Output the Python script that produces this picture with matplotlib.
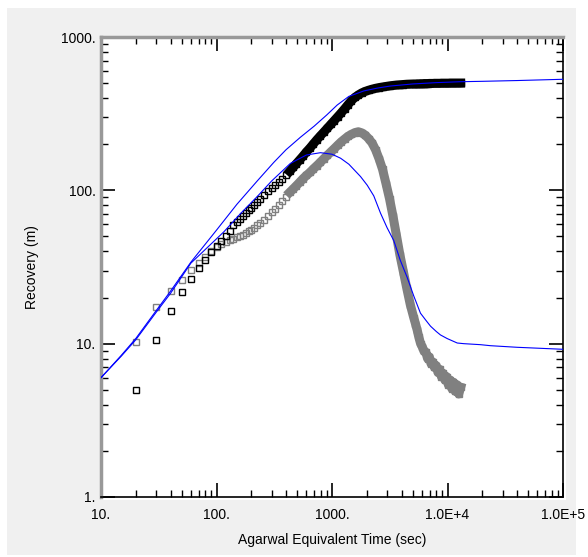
import numpy as np
import matplotlib
matplotlib.use('Agg')
import matplotlib.pyplot as plt
from matplotlib.patches import Rectangle

plt.rcParams['font.family'] = ['Liberation Sans', 'DejaVu Sans']

# recovery test data (time in sec, recovery in m)
time_s = [20, 30, 40, 50, 60, 70, 80, 90, 100, 110, 120, 130, 140, 150, 160, 170, 180, 190, 200,
          210, 225, 240, 260, 280, 300, 320, 345, 370, 400, 430, 460, 490, 525, 560, 600, 645, 690,
          740, 790, 850, 910, 975, 1045, 1120, 1200, 1285,
          1375, 1475, 1580, 1690, 1810, 1940, 2080, 2230, 2390, 2560, 2740, 2940, 3150, 3370, 3610,
          3870, 4150, 4440, 4760,
          5100, 5280, 5460, 5650, 5850, 6060, 6270, 6490, 6720, 6960, 7200, 7450, 7710, 7980, 8260,
          8550, 8850, 9160, 9480, 9810, 10160, 10520, 10880, 11260, 11660, 12070, 12500, 13000]

recovery = [5.0, 10.6, 16.3, 21.7, 26.4, 31.0, 35.0, 39.5, 43.5, 47.0, 50.5, 54.0, 59.0, 62.0, 65.0, 68.0, 71.0, 74.0, 77.0,
            80, 84, 88, 93, 99, 104, 108, 113, 118, 125, 133, 141, 149, 158, 167, 178, 189, 201,
            214, 226, 240, 254, 269, 285, 302, 320, 340,
            362, 385, 404, 419, 432, 442, 450, 457, 463, 468, 472, 476, 480, 483, 486,
            488, 490, 492, 493,
            494, 494, 495, 495, 496, 496, 497, 497, 497, 498, 498, 498, 499, 499, 499,
            499, 500, 500, 500, 500, 500, 501, 501, 501, 501, 501, 501, 501]

derivative = [10.2, 17.3, 22.1, 26.0, 30.2, 33.7, 37.0, 40.5, 43.0, 44.5, 46.0, 47.3, 48.5, 49.5, 50.3, 51.2, 52.5, 54.0, 55.5,
              57, 59, 61.5, 64, 68, 72, 75.5, 80, 85, 91, 97, 102, 107, 113, 119, 125, 131, 138,
              145, 152, 161, 169, 178, 187, 197, 207, 216,
              225, 232, 238, 241, 237, 229, 217, 203, 183, 160, 137, 110, 88, 68, 51,
              38, 29.5, 23, 18,
              14.8, 13.5, 12.3, 11.0, 10.0, 9.5, 8.9, 8.8, 8.0, 8.2, 7.4, 7.6, 7.0, 7.2, 6.5,
              6.8, 6.1, 6.4, 5.8, 6.1, 5.4, 5.8, 5.1, 5.6, 4.9, 5.4, 4.7, 5.2]

# type curves
t_curve1 = [10, 15, 20, 30, 40, 60, 100, 150, 225, 313, 400, 533, 700, 900, 1109, 1400, 1888,
            2500, 3206, 5000, 8000, 13000, 20000, 40000, 100000]
v_curve1 = [6.0, 8.4, 10.8, 16.4, 22.0, 34.0, 55.0, 81.0, 115, 152, 184, 222, 262, 310, 360, 410, 445,
            465, 479, 494, 504, 511, 514, 520, 530]

t_curve2 = [10, 15, 20, 30, 40, 60, 116, 160, 225, 300, 437, 600, 795, 1000, 1186, 1400, 1766, 2018,
            2300, 2630, 3000, 3427, 3900, 4480, 5100, 5835, 6500, 7130, 8000, 8690, 9930, 12140,
            13840, 19300, 23560, 40100, 100000]
v_curve2 = [6.0, 8.3, 10.6, 16.0, 21.3, 33.5, 53.7, 70, 91, 115, 150, 170, 176, 172, 162, 148, 123, 108,
            92, 71, 57, 47, 35, 27, 20.5, 15.8, 14.2, 13.0, 12.0, 11.4, 10.8, 10.1,
            10.0, 9.85, 9.7, 9.47, 9.19]

W, H = 588, 557
fig = plt.figure(figsize=(W / 100, H / 100), dpi=100, facecolor='white')
# grey panel behind the plot
fig.patches.append(Rectangle((7 / W, 2 / H), (576 - 7) / W, (549 - 2) / H,
                             transform=fig.transFigure, facecolor='#f0f0f0',
                             edgecolor='none', zorder=-2))
# white highlight right / bottom of frame
fig.patches.append(Rectangle((101 / W, 1 - 500 / H), (566 - 101) / W, (500 - 37) / H,
                             transform=fig.transFigure, facecolor='white',
                             edgecolor='none', zorder=-1))

ax = fig.add_axes([101 / W, 1 - 497 / H, (563 - 101) / W, (497 - 37) / H])
ax.set_xscale('log')
ax.set_yscale('log')

# late-time samples are so dense the squares merge into a solid band
k = time_s.index(430)
ax.plot(time_s[k:], derivative[k:], '-', color='#808080', lw=6.5,
        solid_capstyle='projecting', solid_joinstyle='round', zorder=2)
ax.plot(time_s[k:], recovery[k:], '-', color='black', lw=6.5,
        solid_capstyle='projecting', solid_joinstyle='round', zorder=3)
ax.plot(time_s, derivative, 's', mfc='none', mec='#808080', ms=5, mew=1.0, zorder=2)
ax.plot(time_s, recovery, 's', mfc='none', mec='black', ms=5, mew=1.0, zorder=3)
ax.plot(t_curve1, v_curve1, '-', color='#0000ff', lw=0.8, zorder=4)
ax.plot(t_curve2, v_curve2, '-', color='#0000ff', lw=0.8, zorder=4)

ax.set_xlim(10, 1e5)
ax.set_ylim(1, 1000)
ax.set_xticks([10, 100, 1000, 1e4, 1e5])
ax.set_xticklabels(['10.', '100.', '1000.', '1.0E+4', '1.0E+5'])
ax.set_yticks([1, 10, 100, 1000])
ax.set_yticklabels(['1.', '10.', '100.', '1000.'])
ax.tick_params(which='both', direction='in', top=True, right=True, labelsize=10, colors='black')
ax.tick_params(which='major', length=10, width=1.2)
ax.tick_params(which='minor', length=5, width=1.0, labelbottom=False, labelleft=False)
ax.tick_params(axis='x', which='major', pad=8)
ax.tick_params(axis='y', which='major', pad=4)

for s in ['left', 'top']:
    ax.spines[s].set_color('#999999')
    ax.spines[s].set_linewidth(2.5)
for s in ['right', 'bottom']:
    ax.spines[s].set_color('black')
    ax.spines[s].set_linewidth(1.2)

ax.set_xlabel('Agarwal Equivalent Time (sec)', fontsize=10, labelpad=8)
ax.set_ylabel('Recovery (m)', fontsize=10, labelpad=16)

fig.savefig('out.png', dpi=100, facecolor=fig.get_facecolor())
